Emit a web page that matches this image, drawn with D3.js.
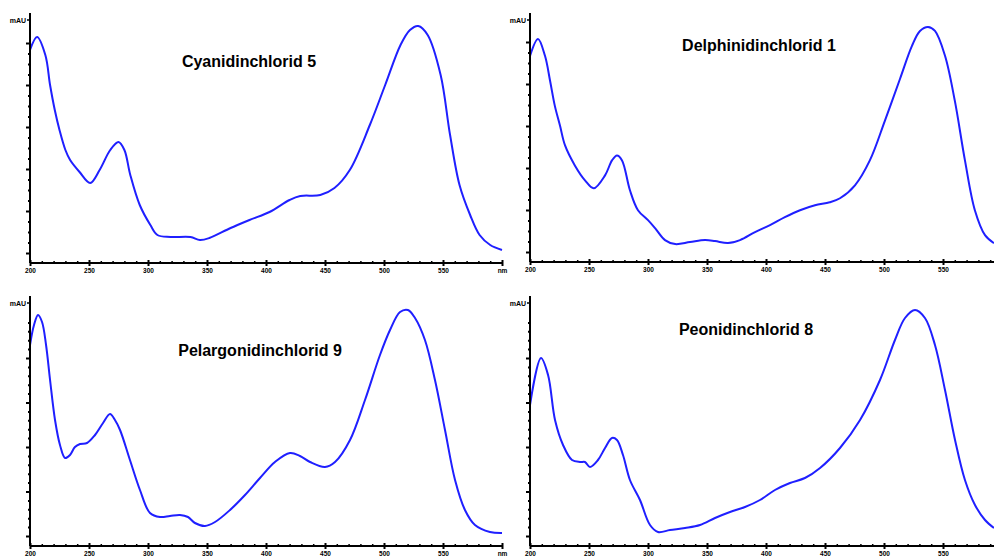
<!DOCTYPE html>
<html><head><meta charset="utf-8">
<script src="https://cdn.jsdelivr.net/npm/d3@7"></script>
<style>body{margin:0;background:#fff}svg{display:block}</style>
</head><body>
<svg id="c" width="994" height="556"></svg>
<script>
// ---- data (wavelength in nm, absorbance in mAU) ----
const titles = ["Cyanidinchlorid 5", "Delphinidinchlorid 1", "Pelargonidinchlorid 9", "Peonidinchlorid 8"];
const xTickValues = [200, 250, 300, 350, 400, 450, 500, 550, 600];
const xTickLabels = ["200", "250", "300", "350", "400", "450", "500", "550", "nm"];

const cyanidinNm  = [200,206,213,217,221,225,230,234,242,251,259,268,275,280,285,293,302,308,319,336,344,352,370,386,403,420,429,446,458,471,488,501,514,522,529,537,548,556,564,573,581,590,600];
const cyanidinAbs = [213,226,208,178,153,133,113,103,91,80,93,113,121,113,88,58,38,28,26,26,23,25,35,43,51,63,67,68,75,93,138,178,218,233,237,228,188,128,78,48,28,18,13];

const delphinidinNm  = [200,206.8,212.7,217,221,225.4,229.7,238,246.6,254,263.6,269.5,273.7,278,284.7,291.5,300,306,314.4,323,335.6,348.3,356.8,367.8,378,390.7,403.4,416,428.8,441.5,454,462.7,475.4,488,500.8,513.6,523.7,530.5,537.3,543.2,551.7,560,568.6,577,585.6,593.2];
const delphinidinAbs = [207,224,207,182,157,137,117,97,82,74,87,102,107,102,72,52,42,34,22,18,20,22,21,19,22,30,37,45,52,57,60,64,77,102,142,184,217,232,236,232,207,162,102,52,27,19];

const pelargonidinNm  = [200,203.4,206.8,210.2,213.6,217,221.2,225.4,229.7,233.9,238.1,242.4,248.3,255.1,261.9,267.8,272,276.3,284.7,293.2,301.7,310.2,318.6,327.1,333.9,339.8,348.3,356.8,369.5,382.2,394.9,407.6,420.3,428.8,437.3,450,458.5,471.2,483.9,496.6,505.1,513.6,520.3,526.3,534.7,543.2,551.7,560.2,568.6,577.1,589.8,600];
const pelargonidinAbs = [201,221,231,224,201,166,126,101,88,91,99,102,103,111,123,132,126,116,86,56,33,29,30,31,29,23,20,24,36,51,68,84,93,90,84,79,84,106,146,191,216,234,236,228,206,166,116,66,36,21,14,13];

const peonidinNm  = [200,209.3,215.3,221.2,228,235.6,242.4,246.6,250.8,257.6,263.6,269.5,273.7,278.8,284.7,293.2,301.7,308.5,318.6,331.4,344.1,356.8,369.5,382.2,394.9,407.6,420.3,433,445.8,462.7,479.7,496.6,509.3,517.8,526.3,534.7,543.2,551.7,560.2,568.6,577.1,585.6,593.2];
const peonidinAbs = [141,188,171,126,101,86,84,84,79,86,98,108,106,91,66,46,21,14,16,18,21,28,34,39,46,56,63,68,78,98,126,166,206,228,236,228,201,156,106,66,41,26,18];

const seriesNm  = [cyanidinNm, delphinidinNm, pelargonidinNm, peonidinNm];
const seriesAbs = [cyanidinAbs, delphinidinAbs, pelargonidinAbs, peonidinAbs];

// ---- layout ----
const W = 994;
const panels = [
  {x0: 30,  yb: 263, yt: 13,  tx: 249, ty: 67,  minor: 10.5, majorEvery: 4, mauY: 20},
  {x0: 530, yb: 262, yt: 13,  tx: 759, ty: 51,  minor: 10.5, majorEvery: 4, mauY: 20},
  {x0: 30,  yb: 546, yt: 296, tx: 260, ty: 356, minor: 8.9,  majorEvery: 5, mauY: 303},
  {x0: 530, yb: 546, yt: 296, tx: 746, ty: 335, minor: 8.9,  majorEvery: 5, mauY: 303}
];

const svg = d3.select("#c");
const blue = "#1f1fff";
const font = "Liberation Sans, Arial, sans-serif";

panels.forEach((p, i) => {
  const g = svg.append("g");
  const x = d3.scaleLinear().domain([200, 600]).range([p.x0, p.x0 + 472]);
  const y = d3.scaleLinear().domain([0, 250]).range([p.yb, p.yt]);
  const xEnd = Math.min(p.x0 + 472, W);

  // curve
  const pts = seriesNm[i].map((n, k) => [n, seriesAbs[i][k]]);
  g.append("path").datum(pts)
    .attr("fill", "none").attr("stroke", blue).attr("stroke-width", 2)
    .attr("stroke-linejoin", "round")
    .attr("d", d3.line().x(d => x(d[0])).y(d => y(d[1])).curve(d3.curveCatmullRom.alpha(0.5)));

  // x axis: minor ticks
  const xMinor = d3.range(200, 601, 10).filter(v => v % 50 !== 0 && x(v) <= W);
  const xAxisMinor = d3.axisBottom(x).tickValues(xMinor).tickSize(-2).tickFormat("");
  g.append("g").attr("transform", `translate(0,${p.yb})`).call(xAxisMinor)
    .call(a => a.select(".domain").remove())
    .call(a => a.selectAll("line").attr("stroke", "#000").attr("stroke-width", 1.5));
  // x axis major
  const vis = xTickValues.map((v, k) => [v, xTickLabels[k]]).filter(d => x(d[0]) + 6 <= W);
  const xAxis = d3.axisBottom(x).tickValues(vis.map(d => d[0]))
    .tickFormat((d, k) => vis[k][1]).tickSize(3).tickPadding(2);
  const xa = g.append("g").attr("transform", `translate(0,${p.yb})`).call(xAxis);
  xa.select(".domain").attr("stroke", "#000").attr("stroke-width", 2).attr("d", `M${p.x0},0H${xEnd}`);
  xa.selectAll(".tick line").attr("stroke", "#000").attr("stroke-width", 2).attr("y1", -3);
  xa.selectAll(".tick text").attr("font-family", font)
    .attr("font-size", 6.5).attr("font-weight", "bold").attr("fill", "#000");

  // y axis
  const yMinorVals = [];
  const yMajorVals = [];
  const base = y.invert(p.yb - 10);
  const stepV = y.invert(p.yb - p.minor) - y.invert(p.yb);
  for (let k = 0; ; k++) {
    const v = base + k * stepV;
    if (y(v) < p.yt + 20) break;
    (k % p.majorEvery === 0 ? yMajorVals : yMinorVals).push(v);
  }
  const yMinorAxis = d3.axisLeft(y).tickValues(yMinorVals).tickSize(2).tickFormat("");
  g.append("g").attr("transform", `translate(${p.x0},0)`).call(yMinorAxis)
    .call(a => a.select(".domain").remove())
    .call(a => a.selectAll("line").attr("stroke", "#000").attr("stroke-width", 2));
  const yAxis = d3.axisLeft(y).tickValues(yMajorVals).tickSize(4).tickFormat("");
  const ya = g.append("g").attr("transform", `translate(${p.x0},0)`).call(yAxis);
  ya.select(".domain").attr("stroke", "#000").attr("stroke-width", 2).attr("d", `M0,${p.yt}V${p.yb}`);
  ya.selectAll(".tick line").attr("stroke", "#000").attr("stroke-width", 2);

  // mAU tick + label
  g.append("line").attr("x1", p.x0 - 3).attr("x2", p.x0).attr("y1", p.mauY).attr("y2", p.mauY)
    .attr("stroke", "#000").attr("stroke-width", 1.5);
  g.append("text").attr("x", p.x0 - 4).attr("y", p.mauY + 2.5).attr("text-anchor", "end")
    .attr("font-family", font).attr("font-size", 7).attr("font-weight", "bold")
    .text("mAU");

  // title
  g.append("text").attr("x", p.tx).attr("y", p.ty).attr("text-anchor", "middle")
    .attr("font-family", font).attr("font-size", 16)
    .attr("font-weight", "bold").attr("fill", "#000").text(titles[i]);
});
</script>
</body></html>
